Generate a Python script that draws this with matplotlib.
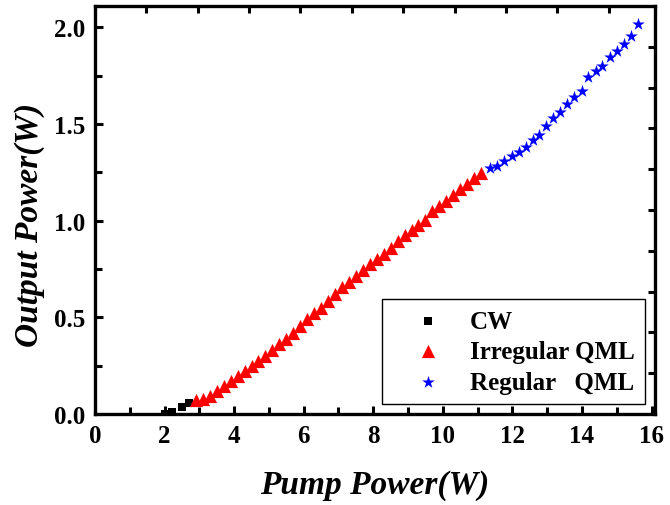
import matplotlib
matplotlib.use("Agg")
import matplotlib.pyplot as plt
import numpy as np

# ---- data ----
cw_x = [2.0, 2.2, 2.5, 2.7]
cw_y = [0.0, 0.01, 0.035, 0.055]

iq_x = [2.9, 3.1, 3.3, 3.5, 3.7, 3.9, 4.1, 4.3, 4.5, 4.7, 4.9, 5.1, 5.3, 5.5,
        5.7, 5.9, 6.1, 6.3, 6.5, 6.7, 6.9, 7.1, 7.3, 7.5, 7.7, 7.9, 8.1, 8.3,
        8.5, 8.7, 8.9, 9.1, 9.3, 9.5, 9.7, 9.9, 10.1, 10.3, 10.5, 10.7, 10.9, 11.1]
iq_y = [0.07, 0.08, 0.095, 0.12, 0.145, 0.17, 0.195, 0.22, 0.25, 0.275, 0.30,
        0.33, 0.36, 0.39, 0.42, 0.455, 0.49, 0.52, 0.55, 0.585, 0.62, 0.655,
        0.685, 0.715, 0.745, 0.775, 0.80, 0.83, 0.86, 0.895, 0.925, 0.95,
        0.975, 1.005, 1.05, 1.075, 1.10, 1.13, 1.165, 1.19, 1.22, 1.245]

rq_x = [11.35, 11.56, 11.76, 11.98, 12.19, 12.39, 12.58, 12.77, 12.98, 13.17,
        13.37, 13.58, 13.78, 13.99, 14.18, 14.40, 14.59, 14.81, 15.0, 15.21,
        15.41, 15.6]
rq_y = [1.271, 1.285, 1.306, 1.332, 1.357, 1.383, 1.418, 1.444, 1.489, 1.530,
        1.561, 1.601, 1.639, 1.673, 1.742, 1.773, 1.799, 1.846, 1.875, 1.915,
        1.954, 2.015]

x_ticks = [0, 2, 4, 6, 8, 10, 12, 14, 16]
y_ticks = [0.0, 0.5, 1.0, 1.5, 2.0]
y_ticklabels = ["0.0", "0.5", "1.0", "1.5", "2.0"]

# ---- style ----
plt.rcParams['font.family'] = ['Liberation Serif', 'DejaVu Serif']
plt.rcParams['font.weight'] = 'bold'

fig = plt.figure(figsize=(6.7, 5.06), dpi=100)
ax = fig.add_axes([95/670, 1 - 415/506, 560/670, 408/506])

ax.scatter(cw_x, cw_y, marker='s', s=40, color='black', label='CW', zorder=3, linewidths=0)
ax.scatter(iq_x, iq_y, marker='^', s=90, color='red', label='Irregular QML', zorder=3, linewidths=0)
ax.scatter(rq_x, rq_y, marker='*', s=90, color='blue', label='Regular   QML', zorder=3, linewidths=0)

ax.set_xlim(0, 16.1)
ax.set_ylim(0, 2.11)
ax.set_xticks(x_ticks)
ax.set_xticklabels([str(v) for v in x_ticks])
ax.set_xticks([1, 3, 5, 7, 9, 11, 13, 15], minor=True)
ax.set_yticks(y_ticks)
ax.set_yticklabels(y_ticklabels)
ax.set_yticks([0.25, 0.75, 1.25, 1.75], minor=True)

for s in ax.spines.values():
    s.set_linewidth(2.4)

ax.tick_params(which='both', direction='in', width=2.2, labelsize=18, top=False, right=False)
ax.tick_params(which='major', length=6, pad=7)
ax.tick_params(which='minor', length=5)

# top / right ticks with independent spacing
top = ax.secondary_xaxis('top')
top.set_xticks([1.477 * k for k in range(1, 11)])
top.set_xticklabels([])
top.tick_params(direction='in', length=5, width=2.2)
right = ax.secondary_yaxis('right')
right.set_yticks([0.211 * k for k in range(1, 10)])
right.set_yticklabels([])
right.tick_params(direction='in', length=5, width=2.2)

ax.set_xlabel('Pump Power(W)', fontsize=24, fontstyle='italic', fontweight='bold', labelpad=16)
ax.set_ylabel('Output Power(W)', fontsize=24, fontstyle='italic', fontweight='bold')
ax.yaxis.set_label_coords(-0.09, 0.466)

leg = ax.legend(loc='lower right', bbox_to_anchor=(0.982, 0.0245),
                frameon=True, fancybox=False, edgecolor='black', framealpha=1,
                handletextpad=0.2, borderpad=0.42, labelspacing=0.3,
                handlelength=2.9, borderaxespad=0, scatterpoints=1,
                prop={'weight': 'bold', 'size': 18})
leg.get_frame().set_linewidth(1.0)

fig.savefig('out.png', dpi=100)
